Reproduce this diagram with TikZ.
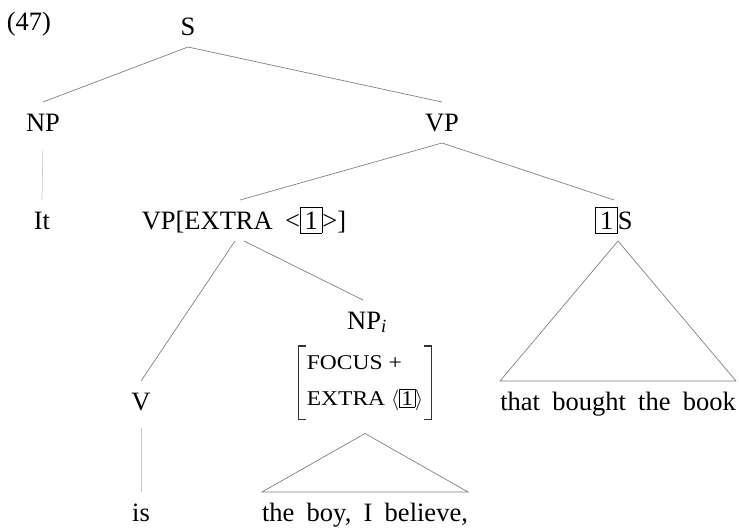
\documentclass[tikz,border=0pt]{standalone}
\usepackage{fontspec}
\setmainfont{Liberation Serif}
\newfontfamily\treefont[WordSpace=1.85]{Liberation Serif}
\newfontfamily\avmfont[FakeStretch=1.12]{Liberation Serif}
\setlength{\fboxsep}{4pt}
\setlength{\fboxrule}{0.6pt}
\begin{document}
\begin{tikzpicture}[x=1pt, y=-1pt,
  lab/.style={inner sep=0pt, outer ysep=12pt, text height=17pt, text depth=0pt, anchor=base,
    font={\treefont\fontsize{26.5}{32}\selectfont}},
  branch/.style={draw=black!50, line width=0.7pt},
  faint/.style={draw=black!22, line width=0.7pt, shorten <=6pt},
  avmbox/.style={inner xsep=8pt, inner ysep=9pt, anchor=north, align=left,
    font={\avmfont\fontsize{21}{36}\selectfont}},
  bracket/.style={draw=black!80, line width=1.2pt}]
\useasboundingbox (0,0) rectangle (739,531);

\node[lab, outer ysep=0pt] (num) at (29,30) {(47)};
\node[lab] (S) at (188,35) {S};
\node[lab] (NP) at (43,131) {NP};
\node[lab] (VP) at (442,131) {VP};
\node[lab] (It) at (42,229) {It};
\node[lab] (VPx) at (244,229) {VP[EXTRA <\fbox{1}>]};
\node[lab] (oneS) at (614,229) {\fbox{1}S};
\node[lab] (NPi) at (367,329) {NP\textsubscript{\itshape i}};
\node[avmbox] (avm) at (365,346) {FOCUS +\\EXTRA $\langle${\fboxsep=1.5pt\fbox{1}}$\rangle$};
\node[lab] (V) at (141,410) {V};
\node[lab] (that) at (618,410) {that bought the book};
\node[lab] (is) at (141,521) {is};
\node[lab] (boy) at (365,521) {the boy, I believe,};

% feature structure brackets
\draw[bracket] ([xshift=7pt]avm.north west) -- (avm.north west) -- (avm.south west) -- ++(7pt,0);
\draw[bracket] ([xshift=-7pt]avm.north east) -- (avm.north east) -- (avm.south east) -- ++(-7pt,0);

\draw[branch] (S.south) -- (NP.north);
\draw[branch] (S.south) -- (VP.north);
\draw[faint] (NP.south) -- (It.north);
\draw[branch] (VP.south) -- ([xshift=-4pt]VPx.north);
\draw[branch] (VP.south) -- (oneS.north);
\draw[branch] ([xshift=-9pt]VPx.south) -- (V.north);
\draw[branch] (VPx.south) -- ([xshift=-4pt]NPi.north);
\draw[faint] (V.south) -- (is.north);

% roofs
\draw[branch] (that.north |- oneS.south) -- (that.north west) -- (that.north east) -- cycle;
\draw[branch] ([yshift=-14pt]avm.south) -- (boy.north west) -- (boy.north east) -- cycle;
\end{tikzpicture}
\end{document}
